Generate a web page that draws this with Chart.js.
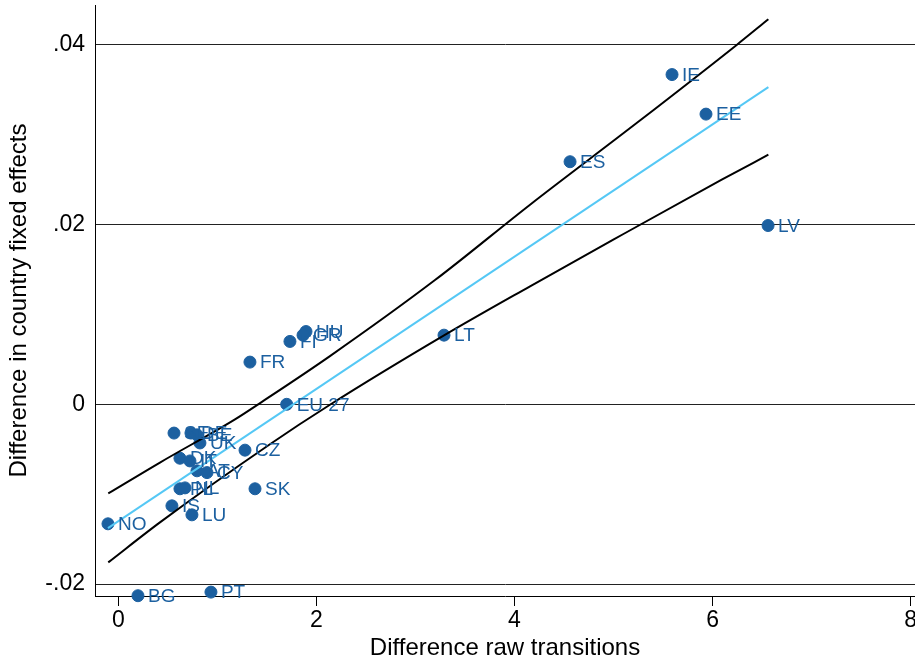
<!DOCTYPE html>
<html>
<head>
<meta charset="utf-8">
<script src="https://cdn.jsdelivr.net/npm/chart.js@4.4.1/dist/chart.umd.min.js"></script>
<style>
  html, body { margin: 0; padding: 0; background: #fff; overflow: hidden; }
  canvas { display: block; }
</style>
</head>
<body>
<canvas id="myChart" width="915" height="663"></canvas>
<script>
// countries and their values
const countries = ['IE', 'EE', 'ES', 'LV', 'LT', 'HU', 'GR', 'FI', 'FR', 'EU 27',
    'SE', 'DE', 'BE', 'UK', 'CZ', 'DK', 'IT', 'AT', 'CY', 'PL', 'NL', 'SK',
    'IS', 'LU', 'NO', 'BG', 'PT'];
const rawDiff = [5.591, 5.934, 4.561, 6.561, 3.288, 1.894, 1.864, 1.732, 1.328, 1.699,
    0.561, 0.732, 0.793, 0.823, 1.278, 0.621, 0.722, 0.793, 0.894, 0.621, 0.672, 1.379,
    0.540, 0.742, -0.106, 0.197, 0.934];
const feDiff = [0.0367, 0.0323, 0.0270, 0.0199, 0.0077, 0.0081, 0.0077, 0.0070, 0.0047, 0.0000,
    -0.0032, -0.0032, -0.0034, -0.0043, -0.0051, -0.0060, -0.0063, -0.0074, -0.0076, -0.0094, -0.0093, -0.0094,
    -0.0113, -0.0123, -0.0133, -0.0213, -0.0209];

// fitted line and confidence band
const fitX = [-0.106, 6.564];
const fitY = [-0.01378, 0.0353];
const upperX = [-0.103, 0.419, 1.177, 1.449, 2.136, 3.197, 4.157, 5.237, 6.244, 6.564];
const upperY = [-0.00992, -0.00648, -0.00167, 0.00028, 0.00537, 0.01383, 0.02222, 0.03133, 0.0400, 0.04286];
const lowerX = [-0.103, 0.419, 1.530, 2.136, 3.288, 4.157, 4.998, 6.093, 6.564];
const lowerY = [-0.01759, -0.01314, -0.00444, -0.00005, 0.00767, 0.01314, 0.01833, 0.0250, 0.02778];

const xTicks = [0, 2, 4, 6, 8];
const yTicks = [-0.02, 0, 0.02, 0.04];
const yTickLabels = ['-.02', '0', '.02', '.04'];

const dotColor = '#1c60a0';
const font = 'Liberation Sans';

function toPoints(xs, ys) {
    return xs.map((x, i) => ({ x: x, y: ys[i] }));
}

const pointLabels = {
    id: 'pointLabels',
    afterDatasetsDraw(chart) {
        const ctx = chart.ctx;
        const meta = chart.getDatasetMeta(3);
        ctx.save();
        ctx.font = '19px "' + font + '"';
        ctx.fillStyle = dotColor;
        ctx.textBaseline = 'middle';
        ctx.textAlign = 'left';
        meta.data.forEach((el, i) => {
            ctx.fillText(countries[i], el.x + 10, el.y + 1);
        });
        ctx.restore();
    }
};

const ctx = document.getElementById('myChart').getContext('2d');
const myChart = new Chart(ctx, {
    type: 'scatter',
    data: {
        datasets: [
            {
                type: 'line',
                data: toPoints(fitX, fitY),
                borderColor: '#55c8f5',
                borderWidth: 2,
                pointRadius: 0,
                fill: false
            },
            {
                type: 'line',
                data: toPoints(upperX, upperY),
                borderColor: '#000000',
                borderWidth: 2,
                pointRadius: 0,
                cubicInterpolationMode: 'monotone',
                fill: false
            },
            {
                type: 'line',
                data: toPoints(lowerX, lowerY),
                borderColor: '#000000',
                borderWidth: 2,
                pointRadius: 0,
                cubicInterpolationMode: 'monotone',
                fill: false
            },
            {
                data: toPoints(rawDiff, feDiff),
                backgroundColor: dotColor,
                borderColor: dotColor,
                pointRadius: 6,
                pointHoverRadius: 6,
                clip: false
            }
        ]
    },
    options: {
        responsive: false,
        animation: false,
        events: [],
        layout: { autoPadding: false, padding: { top: 5, left: 0, right: 0, bottom: 0 } },
        plugins: {
            legend: { display: false },
            tooltip: { enabled: false }
        },
        scales: {
            x: {
                type: 'linear',
                min: -0.237,
                max: 8.045,
                afterBuildTicks: scale => {
                    scale.ticks = xTicks.map(v => ({ value: v }));
                },
                afterFit: scale => {
                    scale.height = 67;
                    scale.paddingLeft = 0;
                    scale.paddingRight = 0;
                },
                grid: {
                    drawOnChartArea: false,
                    drawTicks: true,
                    tickLength: 10,
                    color: '#000'
                },
                border: { color: '#000', width: 1 },
                ticks: {
                    padding: 1,
                    maxRotation: 0,
                    color: '#000',
                    font: { family: font, size: 23 },
                    callback: v => String(v)
                },
                title: {
                    display: true,
                    text: 'Difference raw transitions',
                    color: '#000',
                    font: { family: font, size: 24 },
                    padding: { top: 0, bottom: 0 }
                }
            },
            y: {
                type: 'linear',
                min: -0.021333,
                max: 0.044444,
                afterBuildTicks: scale => {
                    scale.ticks = yTicks.map(v => ({ value: v }));
                },
                afterFit: scale => {
                    scale.width = 95;
                    scale.paddingTop = 0;
                    scale.paddingBottom = 0;
                },
                grid: {
                    drawTicks: false,
                    color: '#222',
                    lineWidth: 1
                },
                border: { color: '#000', width: 1 },
                ticks: {
                    padding: 10,
                    color: '#000',
                    font: { family: font, size: 23 },
                    callback: v => yTickLabels[yTicks.indexOf(v)]
                },
                title: {
                    display: true,
                    text: 'Difference in country fixed effects',
                    color: '#000',
                    font: { family: font, size: 24 },
                    padding: { top: 5, bottom: 0 }
                }
            }
        }
    },
    plugins: [pointLabels]
});
</script>
</body>
</html>
